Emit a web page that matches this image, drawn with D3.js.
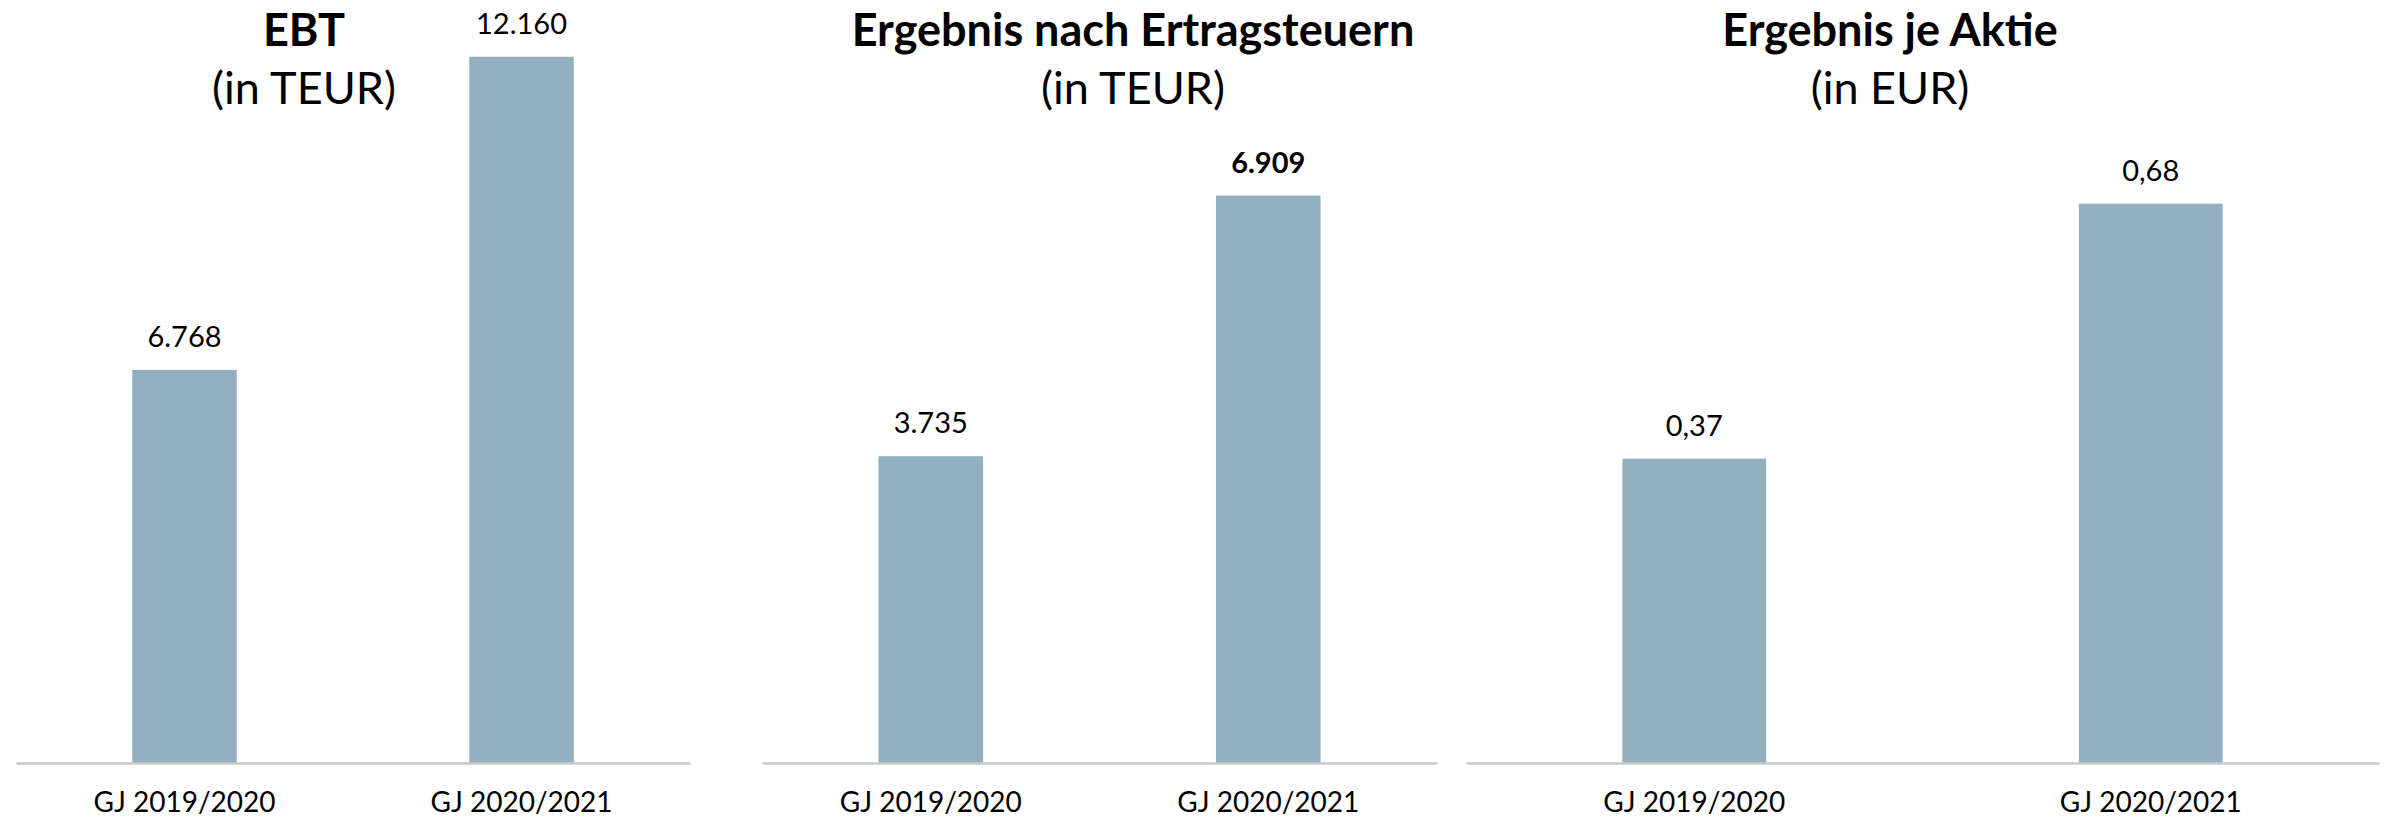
<!DOCTYPE html>
<html>
<head>
<meta charset="utf-8">
<script src="https://cdn.jsdelivr.net/npm/d3@7"></script>
<style>
  body { margin: 0; background: #fff; }
  text { font-family: Lato, "Open Sans", sans-serif; fill: #000; }
</style>
</head>
<body>
<div id="chart"></div>
<script>
// values
var categories = ["GJ 2019/2020", "GJ 2020/2021"];
var titles = ["EBT", "Ergebnis nach Ertragsteuern", "Ergebnis je Aktie"];
var units = ["(in TEUR)", "(in TEUR)", "(in EUR)"];
var ebt = [6768, 12160];
var ergebnisNachSteuern = [3735, 6909];
var ergebnisJeAktie = [0.37, 0.68];
var axisMax = [13000, 8000, 0.8];

var de = d3.formatLocale({decimal: ",", thousands: ".", grouping: [3], currency: ["", " €"]});
var formats = [de.format(",d"), de.format(",d"), de.format(".2f")];
// only the 6.909 label is set in bold in the original
var boldLabel = [[false, false], [false, true], [false, false]];

var width = 2391, height = 822;
var baseY = 763;

// panel geometry: x extent of the baseline, top of plot, title centre
var panels = [
    {x0: 16,   x1: 690,  top: 8,   tx: 304,  pad: 0.69},
    {x0: 762,  x1: 1437, top: 106, tx: 1133, pad: 0.69},
    {x0: 1466, x1: 2379, top: 105, tx: 1890, pad: 0.685}
];
var series = [ebt, ergebnisNachSteuern, ergebnisJeAktie];

var svg = d3.select("#chart")
    .append("svg")
    .attr("width", width)
    .attr("height", height);

panels.forEach(function(p, i) {
    var g = svg.append("g");

    var x = d3.scaleBand()
        .domain(categories)
        .range([p.x0, p.x1])
        .paddingInner(p.pad)
        .paddingOuter(p.pad / 2);

    var y = d3.scaleLinear()
        .domain([0, axisMax[i]])
        .range([baseY, p.top]);

    var rows = categories.map(function(c, j) { return {cat: c, val: series[i][j], bold: boldLabel[i][j]}; });

    g.selectAll("rect")
        .data(rows)
        .enter()
        .append("rect")
        .attr("x", function(d) { return x(d.cat); })
        .attr("width", x.bandwidth())
        .attr("y", function(d) { return y(d.val); })
        .attr("height", function(d) { return baseY - y(d.val); })
        .style("fill", "#93b0c2");

    g.selectAll("text.val")
        .data(rows)
        .enter()
        .append("text")
        .attr("class", "val")
        .attr("x", function(d) { return x(d.cat) + x.bandwidth() / 2; })
        .attr("y", function(d) { return y(d.val) - 23; })
        .attr("text-anchor", "middle")
        .style("font-size", "29px")
        .style("font-weight", function(d) { return d.bold ? "bold" : "normal"; })
        .text(function(d) { return formats[i](d.val); });

    // baseline + category labels
    var axis = d3.axisBottom(x).tickSize(0).tickPadding(29);
    var ax = g.append("g")
        .attr("transform", "translate(0," + baseY + ")")
        .call(axis);
    ax.select(".domain")
        .attr("stroke", "#c8c8c8")
        .attr("stroke-width", 2.5);
    ax.selectAll("text")
        .style("font-size", "28px")
        .style("font-family", "Lato, sans-serif")
        .attr("fill", "#000");

    g.append("text")
        .attr("x", p.tx)
        .attr("y", 46)
        .attr("text-anchor", "middle")
        .style("font-size", "45px")
        .style("font-weight", "bold")
        .text(titles[i]);

    g.append("text")
        .attr("x", p.tx)
        .attr("y", 104)
        .attr("text-anchor", "middle")
        .style("font-size", "45px")
        .text(units[i]);
});
</script>
</body>
</html>
